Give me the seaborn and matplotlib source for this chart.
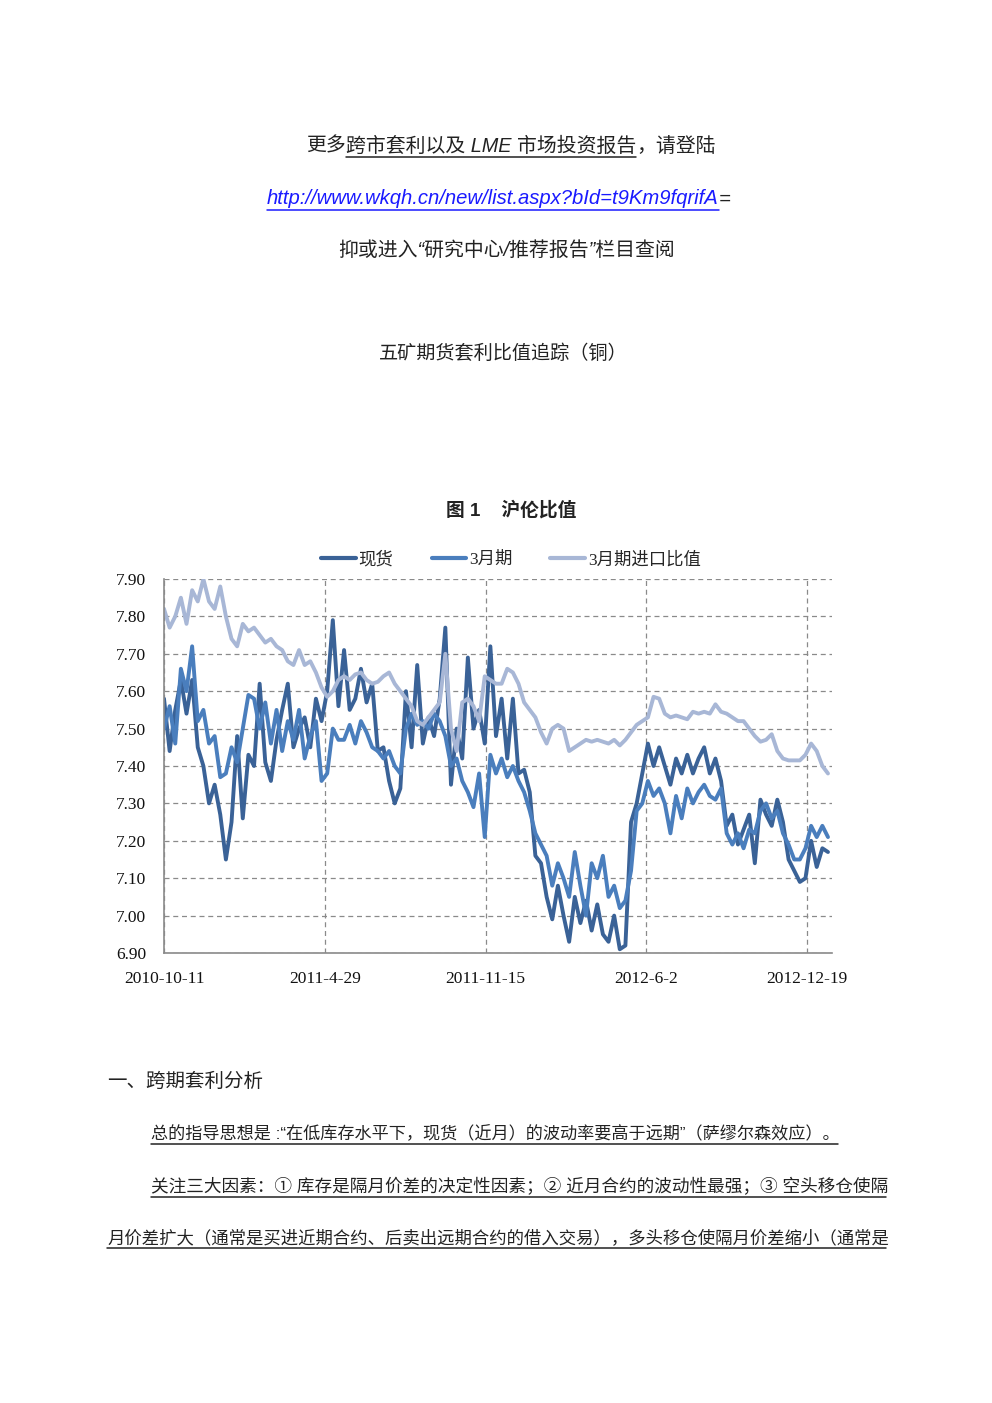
import numpy as np
import pandas as pd
import seaborn as sns
import matplotlib.pyplot as plt
from matplotlib.lines import Line2D

# weekly samples, starting 2010-10-11
spot = [7.58, 7.44, 7.55, 7.63, 7.54, 7.63, 7.45, 7.40, 7.30, 7.35,
        7.27, 7.15, 7.25, 7.48, 7.26, 7.43, 7.40, 7.62, 7.41, 7.36,
        7.47, 7.55, 7.62, 7.45, 7.50, 7.53, 7.45, 7.58, 7.52, 7.60,
        7.79, 7.56, 7.71, 7.55, 7.58, 7.66, 7.57, 7.62, 7.44, 7.45,
        7.36, 7.30, 7.34, 7.60, 7.45, 7.67, 7.46, 7.53, 7.48, 7.58,
        7.77, 7.35, 7.50, 7.42, 7.69, 7.50, 7.55, 7.46, 7.72, 7.48,
        7.58, 7.42, 7.58, 7.38, 7.39, 7.33, 7.16, 7.14, 7.05, 6.99,
        7.08, 7.00, 6.93, 7.05, 6.98, 7.04, 6.96, 7.03, 6.95, 6.93,
        7.00, 6.91, 6.92, 7.25, 7.30, 7.38, 7.46, 7.40, 7.45, 7.40,
        7.35, 7.42, 7.38, 7.43, 7.38, 7.42, 7.45, 7.38, 7.42, 7.36,
        7.24, 7.27, 7.19, 7.23, 7.27, 7.14, 7.31, 7.27, 7.24, 7.31,
        7.25, 7.15, 7.12, 7.09, 7.10, 7.20, 7.13, 7.18, 7.17]

march = [7.50, 7.56, 7.46, 7.66, 7.60, 7.72, 7.52, 7.55, 7.46, 7.48,
         7.37, 7.38, 7.45, 7.41, 7.50, 7.59, 7.58, 7.50, 7.57, 7.46,
         7.55, 7.44, 7.52, 7.47, 7.55, 7.42, 7.48, 7.52, 7.36, 7.38,
         7.50, 7.47, 7.47, 7.51, 7.46, 7.52, 7.49, 7.45, 7.44, 7.42,
         7.44, 7.40, 7.38, 7.50, 7.54, 7.51, 7.52, 7.50, 7.54, 7.52,
         7.48, 7.40, 7.42, 7.36, 7.33, 7.29, 7.38, 7.21, 7.43, 7.38,
         7.42, 7.37, 7.40, 7.36, 7.33, 7.28, 7.22, 7.19, 7.16, 7.08,
         7.14, 7.10, 7.05, 7.17, 7.08, 7.00, 7.14, 7.10, 7.16, 7.05,
         7.08, 7.02, 7.04, 7.12, 7.28, 7.30, 7.36, 7.32, 7.34, 7.30,
         7.22, 7.32, 7.26, 7.34, 7.30, 7.33, 7.35, 7.32, 7.31, 7.34,
         7.22, 7.19, 7.22, 7.18, 7.23, 7.22, 7.28, 7.30, 7.26, 7.28,
         7.22, 7.19, 7.15, 7.15, 7.18, 7.24, 7.21, 7.24, 7.21]

march_import = [7.82, 7.77, 7.80, 7.85, 7.78, 7.87, 7.84, 7.90, 7.84, 7.82,
                7.88, 7.80, 7.74, 7.72, 7.78, 7.76, 7.77, 7.75, 7.73, 7.74,
                7.72, 7.71, 7.68, 7.67, 7.71, 7.67, 7.68, 7.65, 7.61, 7.585,
                7.60, 7.63, 7.64, 7.63, 7.645, 7.65, 7.63, 7.62, 7.625, 7.64,
                7.65, 7.62, 7.60, 7.58, 7.56, 7.52, 7.51, 7.53, 7.55, 7.57,
                7.70, 7.50, 7.44, 7.57, 7.58, 7.56, 7.52, 7.64, 7.63, 7.62,
                7.62, 7.66, 7.65, 7.62, 7.57, 7.55, 7.53, 7.49, 7.46, 7.50,
                7.51, 7.50, 7.44, 7.45, 7.46, 7.47, 7.465, 7.47, 7.465, 7.46,
                7.47, 7.455, 7.47, 7.49, 7.51, 7.52, 7.53, 7.585, 7.58, 7.54,
                7.53, 7.535, 7.53, 7.525, 7.545, 7.54, 7.545, 7.54, 7.565, 7.545,
                7.54, 7.53, 7.52, 7.52, 7.50, 7.48, 7.465, 7.47, 7.485, 7.44,
                7.42, 7.415, 7.415, 7.415, 7.43, 7.46, 7.44, 7.40, 7.38]

series_names = ["现货", "3月期", "3月期进口比值"]
colors = ["#3a6297", "#4a7ebd", "#a8b7d6"]
x_ticks = ["2010-10-11", "2011-4-29", "2011-11-15", "2012-6-2", "2012-12-19"]
y_ticks = [6.90, 7.00, 7.10, 7.20, 7.30, 7.40, 7.50, 7.60, 7.70, 7.80, 7.90]

dates = pd.date_range("2010-10-11", periods=len(spot), freq="7D")
df = pd.DataFrame({"date": np.tile(dates, 3),
                   "value": spot + march + march_import,
                   "series": np.repeat(series_names, len(spot))})

sns.set_style("white")
plt.rcParams["font.family"] = ["Liberation Sans", "Noto Sans CJK SC", "DejaVu Sans"]
plt.rcParams["axes.unicode_minus"] = False

W, H = 992, 1403
fig = plt.figure(figsize=(W / 100, H / 100), dpi=100)
renderer = fig.canvas.get_renderer()
txt_color = "#222222"


def text_line(yc, runs, size, xc=None, x0=None, width=None, **kw):
    # runs: (text, colour, underline) laid out left to right
    texts = [fig.text(0, 1 - yc / H, s, fontsize=size, color=c, va="center", ha="left", **kw)
             for s, c, u in runs]
    ws = [t.get_window_extent(renderer).width for t in texts]
    if width is not None:
        k = width / sum(ws)
        for t in texts:
            t.set_fontsize(size * k)
        ws = [w * k for w in ws]
        size = size * k
    x = x0 if x0 is not None else xc - sum(ws) / 2
    off = 0.56 * size * 100 / 72
    for t, w, (s, c, u) in zip(texts, ws, runs):
        t.set_x(x / W)
        if u:
            fig.add_artist(Line2D([x / W, (x + w) / W], [1 - (yc + off) / H] * 2,
                                  color=c, lw=1.1))
        x += w


# header block
text_line(146, [("更多", txt_color, False),
                ("跨市套利以及 LME 市场投资报告", txt_color, True),
                ("，请登陆", txt_color, False)], 14.3, xc=511, style="italic")
text_line(199, [("http://www.wkqh.cn/new/list.aspx?bId=t9Km9fqrifA", "#1a1aff", True),
                ("=", txt_color, False)], 14.6, x0=267, style="italic")
text_line(250, [("抑或进入“研究中心/推荐报告”栏目查阅", txt_color, False)], 14.3, xc=507,
          style="italic")
text_line(354, [("五矿期货套利比值追踪（铜）", txt_color, False)], 13.8, xc=503)
text_line(510, [("图 1    沪伦比值", txt_color, False)], 13.5, xc=511, weight="bold")

# chart
ax = fig.add_axes([164 / W, 1 - 953 / H, 668 / W, 374 / H])
sns.lineplot(data=df, x="date", y="value", hue="series", hue_order=series_names,
             palette=colors, linewidth=2.8, ax=ax, legend=False)
ax.set_xlim(pd.Timestamp("2010-10-11"), pd.Timestamp("2013-01-19"))
ax.set_ylim(6.90, 7.90)
ax.set_xticks(pd.to_datetime(x_ticks))
ax.set_xticklabels(x_ticks)
ax.set_yticks(y_ticks)
ax.set_yticklabels([f"{v:.2f}" for v in y_ticks])
ax.set_xlabel("")
ax.set_ylabel("")
ax.grid(True, color="#8a8a8a", linestyle=(0, (4, 3)), linewidth=0.9)
ax.set_axisbelow(True)
for side in ["top", "right"]:
    ax.spines[side].set_visible(False)
for side in ["left", "bottom"]:
    ax.spines[side].set_color("#8a8a8a")
    ax.spines[side].set_linewidth(1.2)
ax.tick_params(axis="both", direction="out", length=5, color="#8a8a8a", width=1,
               labelsize=12.5, pad=8, labelcolor="#111111")
for lab in ax.get_xticklabels() + ax.get_yticklabels():
    lab.set_family(["Liberation Serif", "Noto Sans CJK SC"])

handles = [Line2D([], [], color=c, lw=3) for c in colors]
fig.legend(handles, series_names, loc="center", bbox_to_anchor=(511 / W, 1 - 560 / H),
           ncol=3, frameon=False, handlelength=2.0, handletextpad=0.15,
           columnspacing=2.2, prop={"family": ["Liberation Serif", "Noto Sans CJK SC"],
                                    "size": 12.5})

# text below the chart
text_line(1082, [("一、跨期套利分析", txt_color, False)], 14, x0=107)
text_line(1134, [("总的指导思想是 :“在低库存水平下，现货（近月）的波动率要高于远期”（萨缪尔森效应）。",
                  txt_color, True)], 12.2, x0=151, width=687)
text_line(1187, [("关注三大因素：① 库存是隔月价差的决定性因素；② 近月合约的波动性最强；③ 空头移仓使隔",
                  txt_color, True)], 12.2, x0=151, width=735)
text_line(1238, [("月价差扩大（通常是买进近期合约、后卖出远期合约的借入交易），多头移仓使隔月价差缩小（通常是",
                  txt_color, True)], 12.2, x0=107, width=779)

fig.savefig("out.png", dpi=100)
